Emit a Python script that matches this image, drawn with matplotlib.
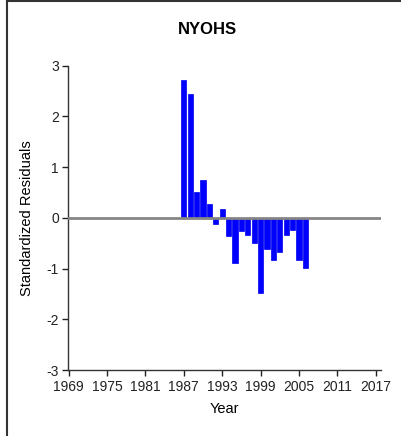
import matplotlib
matplotlib.use('Agg')
import matplotlib.pyplot as plt
from matplotlib.lines import Line2D

plt.rcParams['font.family'] = ['Liberation Sans', 'DejaVu Sans']
plt.rcParams['axes.unicode_minus'] = False

# residuals by year
years = list(range(1987, 2007))
residuals = [2.71, 2.45, 0.50, 0.74, 0.27, -0.12, 0.18, -0.36, -0.89, -0.26,
             -0.33, -0.49, -1.49, -0.62, -0.83, -0.68, -0.33, -0.23, -0.83, -0.99]
xticks = [1969, 1975, 1981, 1987, 1993, 1999, 2005, 2011, 2017]
yticks = [-3, -2, -1, 0, 1, 2, 3]

W, H = 402, 436
fig = plt.figure(figsize=(W / 100, H / 100), dpi=100)
ax = fig.add_axes([68.5 / W, (H - 370) / H, (381 - 68.5) / W, (370 - 65.7) / H])

ax.bar(years, residuals, width=0.8, color='#0000ff', edgecolor='#0000ee', linewidth=0.5, zorder=2)
ax.axhline(0, color='#858585', linewidth=2, zorder=3)

ax.set_xlim(1969, 2017.8)
ax.set_ylim(-3, 3)
ax.set_xticks(xticks)
ax.set_yticks(yticks)
ax.tick_params(direction='out', length=4, width=1, labelsize=10, colors='#222222', pad=3)
for side in ['top', 'right']:
    ax.spines[side].set_visible(False)
for side in ['left', 'bottom']:
    ax.spines[side].set_color('#333333')
    ax.spines[side].set_linewidth(1)

ax.set_xlabel('Year', fontsize=10.5, labelpad=6)
ax.set_ylabel('Standardized Residuals', fontsize=10.5, labelpad=9)
fig.text(207 / W, 1 - 30 / H, 'NYOHS', fontsize=12, fontweight='bold', ha='center', va='center')

# window border (top and left)
fig.add_artist(Line2D([7.5 / W, 7.5 / W], [0, 1], transform=fig.transFigure, color='#333333', lw=1.5))
fig.add_artist(Line2D([7.5 / W, 1], [1 - 1 / H, 1 - 1 / H], transform=fig.transFigure, color='#333333', lw=1.5))

fig.savefig('out.png', dpi=100)
